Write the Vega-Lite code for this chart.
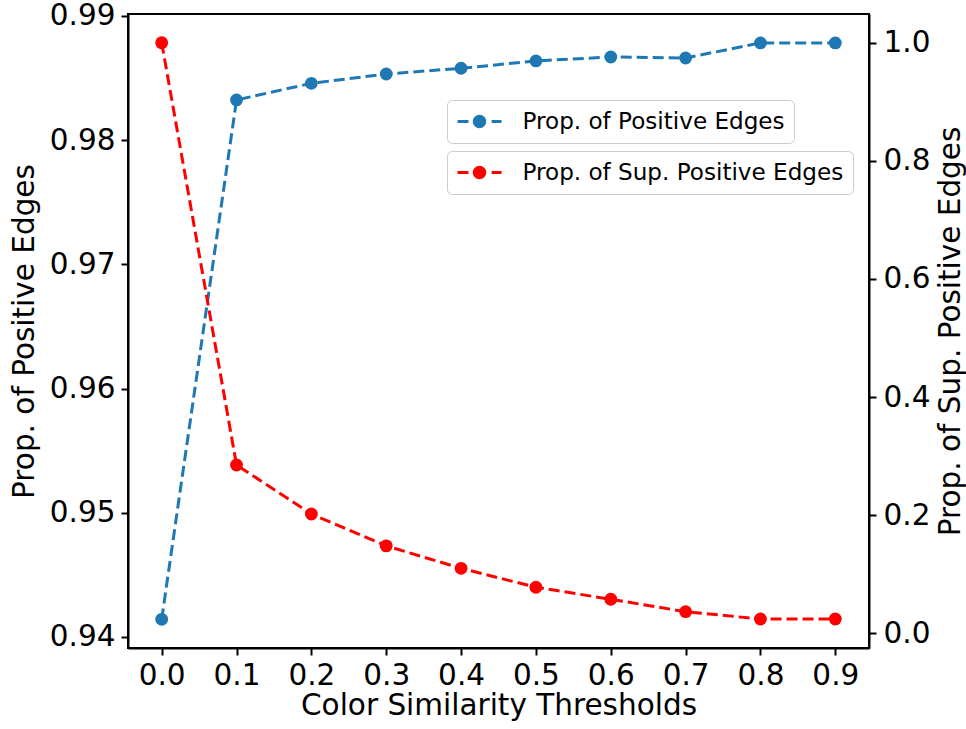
{
  "$schema": "https://vega.github.io/schema/vega-lite/v6.json",
  "width": 741,
  "height": 634,
  "autosize": {"type": "none"},
  "padding": {"left": 128, "top": 14, "right": 97, "bottom": 81},
  "background": "white",
  "config": {
    "font": "DejaVu Sans",
    "view": {"stroke": "black", "strokeWidth": 2},
    "axis": {
      "grid": false,
      "domainColor": "black",
      "domainWidth": 2,
      "tickColor": "black",
      "tickWidth": 2,
      "tickSize": 7,
      "labelColor": "black",
      "labelFontSize": 29.5,
      "titleFontSize": 29.5,
      "titleColor": "black",
      "titleFontWeight": "normal",
      "labelFont": "DejaVu Sans",
      "titleFont": "DejaVu Sans"
    }
  },
  "data": {
    "values": [
      {"t": 0.0, "pos": 0.94142, "sup": 1.0},
      {"t": 0.1, "pos": 0.98324, "sup": 0.285},
      {"t": 0.2, "pos": 0.98458, "sup": 0.202},
      {"t": 0.3, "pos": 0.98533, "sup": 0.148},
      {"t": 0.4, "pos": 0.98579, "sup": 0.110},
      {"t": 0.5, "pos": 0.98638, "sup": 0.078},
      {"t": 0.6, "pos": 0.98670, "sup": 0.0576},
      {"t": 0.7, "pos": 0.98662, "sup": 0.0366},
      {"t": 0.8, "pos": 0.98783, "sup": 0.0242},
      {"t": 0.9, "pos": 0.98783, "sup": 0.0242}
    ]
  },
  "encoding": {
    "x": {
      "field": "t",
      "type": "quantitative",
      "scale": {"domain": [-0.045, 0.945], "nice": false, "zero": false},
      "axis": {
        "values": [0, 0.1, 0.2, 0.3, 0.4, 0.5, 0.6, 0.7, 0.8, 0.9],
        "format": ".1f",
        "title": "Color Similarity Thresholds",
        "labelPadding": 6,
        "labelFlush": false,
        "titleY": 66,
        "titleBaseline": "alphabetic"
      }
    }
  },
  "layer": [
    {
      "mark": {
        "type": "line",
        "strokeDash": [11, 5],
        "strokeWidth": 3,
        "point": {"filled": true, "size": 165, "opacity": 1}
      },
      "encoding": {
        "y": {
          "field": "pos",
          "type": "quantitative",
          "scale": {"domain": [0.93911, 0.99016], "nice": false, "zero": false},
          "axis": {
            "orient": "left",
            "values": [0.94, 0.95, 0.96, 0.97, 0.98, 0.99],
            "format": ".2f",
            "title": "Prop. of Positive Edges",
            "labelPadding": 6,
            "titleAngle": -90,
            "titleX": -118,
            "titleY": 317,
            "titleAlign": "center",
            "titleBaseline": "top"
          }
        },
        "color": {
          "datum": "Prop. of Positive Edges",
          "type": "nominal",
          "scale": {"range": ["#1f77b4"]},
          "legend": {
            "orient": "none",
            "legendX": 319,
            "legendY": 86,
            "title": null,
            "symbolType": "M-1,0H0M2.1,0H3M0.52,0A0.48,0.48,0,1,1,1.48,0A0.48,0.48,0,1,1,0.52,0Z",
            "symbolSize": 484,
            "symbolStrokeWidth": 3,
            "symbolFillColor": "#1f77b4",
            "symbolStrokeColor": "#1f77b4",
            "labelFontSize": 23.1,
            "labelFont": "DejaVu Sans",
            "labelColor": "black",
            "labelLimit": 0,
            "labelOffset": 41.5,
            "padding": 9,
            "strokeColor": "#cccccc",
            "cornerRadius": 5,
            "fillColor": "rgba(255,255,255,0.8)"
          }
        }
      }
    },
    {
      "mark": {
        "type": "line",
        "strokeDash": [11, 5],
        "strokeWidth": 3,
        "point": {"filled": true, "size": 165, "opacity": 1}
      },
      "encoding": {
        "y": {
          "field": "sup",
          "type": "quantitative",
          "scale": {"domain": [-0.0249, 1.0486], "nice": false, "zero": false},
          "axis": {
            "orient": "right",
            "values": [0, 0.2, 0.4, 0.6, 0.8, 1.0],
            "format": ".1f",
            "title": "Prop. of Sup. Positive Edges",
            "labelPadding": 7,
            "titleAngle": -90,
            "titleX": 67,
            "titleY": 317,
            "titleAlign": "center",
            "titleBaseline": "top"
          }
        },
        "color": {
          "datum": "Prop. of Sup. Positive Edges",
          "type": "nominal",
          "scale": {"range": ["#ff0000"]},
          "legend": {
            "orient": "none",
            "legendX": 319,
            "legendY": 137,
            "title": null,
            "symbolType": "M-1,0H0M2.1,0H3M0.52,0A0.48,0.48,0,1,1,1.48,0A0.48,0.48,0,1,1,0.52,0Z",
            "symbolSize": 484,
            "symbolStrokeWidth": 3,
            "symbolFillColor": "#ff0000",
            "symbolStrokeColor": "#ff0000",
            "labelFontSize": 23.1,
            "labelFont": "DejaVu Sans",
            "labelColor": "black",
            "labelLimit": 0,
            "labelOffset": 41.5,
            "padding": 9,
            "strokeColor": "#cccccc",
            "cornerRadius": 5,
            "fillColor": "rgba(255,255,255,0.8)"
          }
        }
      }
    }
  ],
  "resolve": {"scale": {"y": "independent", "color": "independent"}}
}
